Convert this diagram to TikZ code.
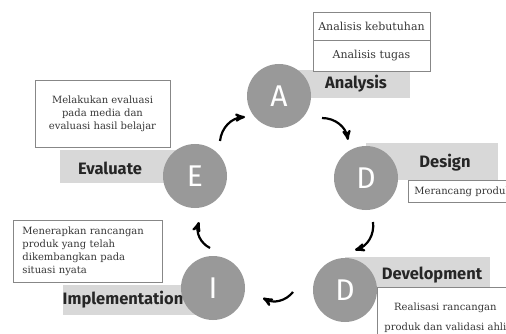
\documentclass[tikz,border=0pt]{standalone}
\usepackage{fontspec}
\setmainfont{DejaVu Serif}
\newfontfamily\tagfont{Fira Sans}
\usetikzlibrary{arrows}

\definecolor{circgray}{RGB}{153,153,153}
\definecolor{taggray}{RGB}{216,216,216}
\definecolor{boxline}{RGB}{135,135,135}
\definecolor{desctext}{RGB}{55,55,55}

\begin{document}
\begin{tikzpicture}[x=1pt,y=-1pt]
    \tikzstyle{stage}=[circle, fill=circgray, minimum size=64pt, inner sep=0pt, text=white, font=\tagfont\fontsize{30}{30}\selectfont]
    \tikzstyle{tag}=[fill=taggray, inner sep=0pt]
    \tikzstyle{tagtext}=[font=\tagfont\bfseries\fontsize{16.5}{16.5}\selectfont, text=black!85]
    \tikzstyle{desc}=[draw=boxline, fill=white, line width=0.8pt, inner sep=0pt, text=desctext, font=\fontsize{10}{13}\selectfont]
    \tikzstyle{cycle}=[-stealth', line width=2.2pt, black]

    \clip (0,0) rectangle (506,334);
    \fill[white] (0,0) rectangle (506,334);

    % label bars
    \node[tag, minimum width=120pt, minimum height=28pt] (antag) at (350,84) {};
    \node[tag, minimum width=125pt, minimum height=33pt] (evtag) at (122.5,166.5) {};
    \node[tag, minimum width=132pt, minimum height=37pt] (dstag) at (432,161.5) {};
    \node[tag, minimum width=145pt, minimum height=33pt] (dvtag) at (417.5,273.5) {};
    \node[tag, minimum width=150pt, minimum height=30pt] (imtag) at (138,300) {};

    % stages
    \node[stage] (an) at (279,96) {A};
    \node[stage] (ev) at (195,176) {E};
    \node[stage] (ds) at (366,178) {D};
    \node[stage] (dv) at (345,290) {D};
    \node[stage] (im) at (213,288) {I};

    % stage names
    \node[tagtext] (anlbl) at (356,84) {Analysis};
    \node[tagtext] (evlbl) at (110,168) {Evaluate};
    \node[tagtext] (dslbl) at (445,163) {Design};
    \node[tagtext] (dvlbl) at (432,275) {Development};
    \node[tagtext] (imlbl) at (123,300) {Implementation};

    % notes
    \node[desc, minimum width=117pt, minimum height=28pt, font=\fontsize{11}{13}\selectfont] (annote1) at (371.5,26) {Analisis kebutuhan};
    \node[desc, minimum width=117pt, minimum height=31pt, font=\fontsize{11}{13}\selectfont] (annote2) at (371.5,55.5) {Analisis tugas};
    \node[desc, minimum width=135pt, minimum height=67pt, align=center] (evnote) at (102.5,113.5)
        {Melakukan evaluasi\\pada media dan\\evaluasi hasil belajar};
    \node[desc, anchor=north west, minimum height=22pt, inner xsep=6pt, text width=110pt, align=left] (dsnote) at (408,180)
        {Merancang produk};
    \node[desc, anchor=north west, minimum width=136pt, minimum height=60pt, align=center] (dvnote) at (377,287)
        {Realisasi rancangan\\[7pt]produk dan validasi ahli};
    \node[desc, anchor=north west, minimum height=62pt, inner xsep=9pt, text width=131pt, align=left] (imnote) at (13,220)
        {Menerapkan rancangan\\produk yang telah\\dikembangkan pada\\situasi nyata};

    % arrow ends
    \coordinate (ev-out) at (220,141);
    \coordinate (an-in) at (245,117);
    \coordinate (an-out) at (322,118);
    \coordinate (ds-in) at (348,140);
    \coordinate (ds-out) at (373,222);
    \coordinate (dv-in) at (355,250);
    \coordinate (dv-out) at (293,292);
    \coordinate (im-in) at (263,298);
    \coordinate (im-out) at (210,248);
    \coordinate (ev-in) at (199,222);

    % cycle arrows
    \draw[cycle] (ev-out) to[bend left=40] (an-in);
    \draw[cycle] (an-out) to[bend left=40] (ds-in);
    \draw[cycle] (ds-out) to[bend left=40] (dv-in);
    \draw[cycle] (dv-out) to[bend left=40] (im-in);
    \draw[cycle] (im-out) to[bend left=40] (ev-in);

\end{tikzpicture}
\end{document}
